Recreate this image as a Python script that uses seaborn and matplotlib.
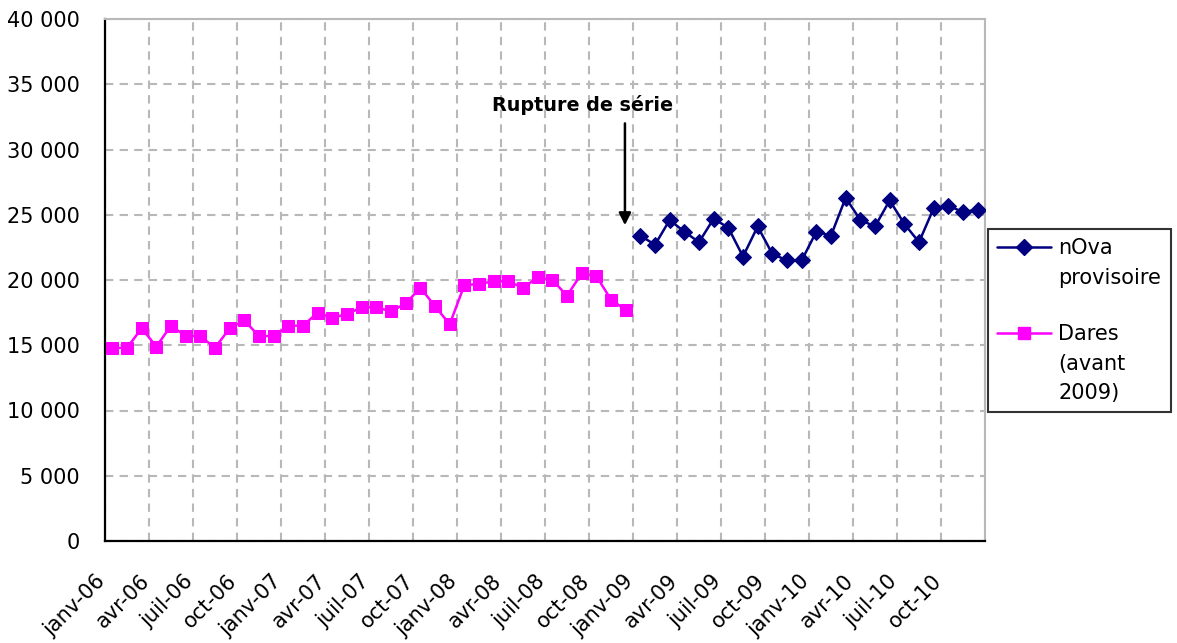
import numpy as np
import pandas as pd
import seaborn as sns
import matplotlib
matplotlib.use("Agg")
import matplotlib.pyplot as plt
from matplotlib.lines import Line2D
from matplotlib.ticker import FuncFormatter, MultipleLocator
from matplotlib.transforms import ScaledTranslation

# ---- data ----
tick_labels = ["janv-06", "avr-06", "juil-06", "oct-06",
               "janv-07", "avr-07", "juil-07", "oct-07",
               "janv-08", "avr-08", "juil-08", "oct-08",
               "janv-09", "avr-09", "juil-09", "oct-09",
               "janv-10", "avr-10", "juil-10", "oct-10"]

dares_values = [14800, 14800, 16300, 14900, 16500, 15700, 15700, 14800, 16300, 16900, 15700, 15700,
                16500, 16500, 17500, 17100, 17400, 17900, 17900, 17600, 18200, 19400, 18000, 16600,
                19600, 19700, 19900, 19900, 19400, 20200, 20000, 18800, 20500, 20300, 18500, 17700]

nova_values = [23400, 22700, 24600, 23700, 22900, 24700, 24000, 21800, 24100, 22000, 21500, 21500,
               23700, 23400, 26300, 24600, 24100, 26100, 24300, 22900, 25500, 25700, 25200, 25400]

dares_label_lines = ["Dares", "(avant", "2009)"]
nova_label_lines = ["nOva", "provisoire"]
annotation_text = "Rupture de série"

n_months = len(dares_values) + len(nova_values)
dares_df = pd.DataFrame({"mois": np.arange(len(dares_values)) + 0.5, "valeur": dares_values})
nova_df = pd.DataFrame({"mois": np.arange(len(dares_values), n_months) + 0.5, "valeur": nova_values})

# ---- style ----
sns.set_style("white")
plt.rcParams["font.family"] = ["DejaVu Sans"]
plt.rcParams["text.color"] = "black"
plt.rcParams["xtick.color"] = "black"
plt.rcParams["ytick.color"] = "black"
FS_Y = 15
FS_X = 15
FS_LEG = 15
FS_ANN = 13.8

PINK = "#FF00FF"
NAVY = "#000080"
GRID = "#B8B8B8"

fig = plt.figure(figsize=(11.77, 6.43), dpi=100)
ax = fig.add_axes([105 / 1177, 1 - 541 / 643, (985 - 105) / 1177, (541 - 19) / 643])

sns.lineplot(data=dares_df, x="mois", y="valeur", ax=ax, color=PINK, marker="s",
             markersize=9, markeredgecolor=PINK, linewidth=1.8, zorder=3)
sns.lineplot(data=nova_df, x="mois", y="valeur", ax=ax, color=NAVY, marker="D",
             markersize=8, markeredgecolor=NAVY, linewidth=1.8, zorder=3)

ax.set_xlim(0, n_months)
ax.set_ylim(0, 40000)
ax.set_xlabel("")
ax.set_ylabel("")

ax.yaxis.set_major_locator(MultipleLocator(5000))
ax.yaxis.set_major_formatter(FuncFormatter(lambda v, p: f"{int(v):,}".replace(",", " ")))

ax.set_xticks(np.arange(0, n_months + 1, 3))
ax.set_xticklabels(tick_labels + [""], rotation=45, ha="right", va="top", rotation_mode="anchor")

ax.tick_params(axis="both", direction="out", length=7, width=1.5, color="black")
ax.tick_params(axis="x", labelsize=FS_X, pad=14.5)
ax.tick_params(axis="y", labelsize=FS_Y, pad=11)

shift = ScaledTranslation(-10 / 100, 0, fig.dpi_scale_trans)
for lab in ax.get_xticklabels():
    lab.set_transform(lab.get_transform() + shift)

ax.grid(True, color=GRID, linestyle=(0, (4, 3)), linewidth=1.5)
ax.set_axisbelow(True)

for s in ["left", "bottom"]:
    ax.spines[s].set_color("black")
    ax.spines[s].set_linewidth(1.6)
for s in ["right", "top"]:
    ax.spines[s].set_color(GRID)
    ax.spines[s].set_linewidth(1.5)

# annotation
ax.text(32.56, 33400, annotation_text, fontsize=FS_ANN, fontweight="bold", ha="center", va="center")
ax.annotate("", xy=(35.45, 24200), xytext=(35.45, 32000),
            arrowprops=dict(arrowstyle="-|>", color="black", lw=1.8, mutation_scale=18,
                            shrinkA=0, shrinkB=0))

# legend (one entry per text line)
blank = Line2D([], [], linestyle="none")
h_nova = Line2D([], [], color=NAVY, marker="D", markersize=8, linewidth=1.8)
h_dares = Line2D([], [], color=PINK, marker="s", markersize=9, linewidth=1.8)
handles = [h_nova, blank, blank, h_dares, blank, blank]
labels = [nova_label_lines[0], nova_label_lines[1], " ",
          dares_label_lines[0], dares_label_lines[1], dares_label_lines[2]]
leg = fig.legend(handles, labels, loc="upper left", bbox_to_anchor=(988 / 1177, 1 - 229 / 643),
                 fontsize=FS_LEG, frameon=True, fancybox=False, shadow=False,
                 handlelength=2.55, handletextpad=0.38, labelspacing=0.44,
                 borderpad=0.45, borderaxespad=0)
leg.get_texts()[2].set_fontsize(12)
leg.get_frame().set_edgecolor("black")
leg.get_frame().set_linewidth(1.5)

fig.savefig("out.png", dpi=100)
